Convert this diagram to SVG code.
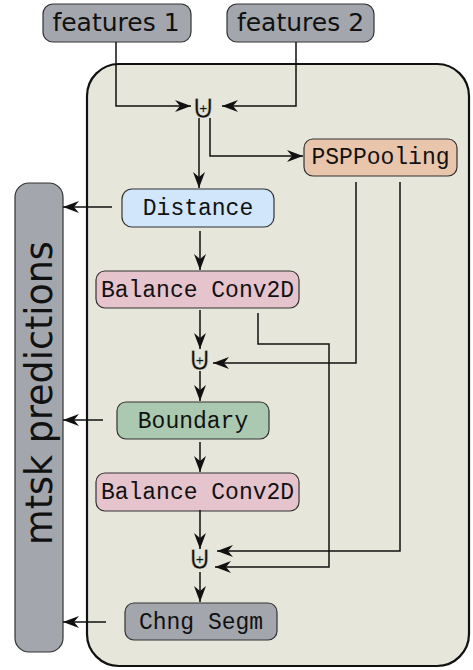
<svg xmlns="http://www.w3.org/2000/svg" width="473" height="670" viewBox="0 0 473 670">
<style>
.box{stroke:#333;stroke-width:1.2}
.sans{font-family:"DejaVu Sans",sans-serif;fill:#111}
.mono{font-family:"Liberation Mono","Courier New",monospace;font-size:23px;fill:#111;text-anchor:middle}
.op{font-family:"DejaVu Sans",sans-serif;font-size:34px;fill:#111;stroke:#e7e6da;stroke-width:0.5;text-anchor:middle}
.c{fill:none;stroke:#111;stroke-width:1.5}
</style>
<defs>
<marker id="ah" markerUnits="userSpaceOnUse" markerWidth="18" markerHeight="14" refX="16" refY="6.5" orient="auto">
<path d="M0,0.5 L16,6.5 L0,12.5 L5,6.5 z" fill="#111"/>
</marker>
</defs>
<rect id="container" x="87" y="64" width="382" height="602" rx="32" fill="#e7e6da" stroke="#111" stroke-width="2.2"/>
<g id="features1"><rect class="box" x="43" y="4" width="148" height="38" rx="10" fill="#a3a6ad"/><text class="sans" x="116" y="31" font-size="25" text-anchor="middle">features 1</text></g>
<g id="features2"><rect class="box" x="227" y="4" width="147" height="38" rx="10" fill="#a3a6ad"/><text class="sans" x="300.5" y="31" font-size="25" text-anchor="middle">features 2</text></g>
<g id="mtsk"><rect class="box" x="15" y="183" width="48" height="469" rx="14" fill="#a3a6ad"/><text class="sans" transform="translate(52,393) rotate(-90)" font-size="36.5" text-anchor="middle">mtsk predictions</text></g>
<g id="psppooling"><rect class="box" x="304" y="139" width="153" height="37" rx="9" fill="#e9c5ac"/><text class="mono" x="380.5" y="164">PSPPooling</text></g>
<g id="distance"><rect class="box" x="122" y="189" width="152" height="38" rx="10" fill="#d1e5fb"/><text class="mono" x="198" y="214.5">Distance</text></g>
<g id="balance1"><rect class="box" x="96" y="271" width="203" height="37" rx="9" fill="#e5c4cd"/><text class="mono" x="197.5" y="296.5">Balance Conv2D</text></g>
<g id="boundary"><rect class="box" x="117" y="402" width="152" height="37" rx="9" fill="#aac9b0"/><text class="mono" x="193" y="427.5">Boundary</text></g>
<g id="balance2"><rect class="box" x="96" y="473" width="203" height="38" rx="9" fill="#e5c4cd"/><text class="mono" x="197.5" y="498.5">Balance Conv2D</text></g>
<g id="chngsegm"><rect class="box" x="125" y="603" width="152" height="37" rx="9" fill="#a3a6ad"/><text class="mono" x="201" y="628.5">Chng Segm</text></g>
<g id="op1"><text class="op" x="203.5" y="118">⊎</text></g>
<g id="op2"><text class="op" x="200" y="370">⊎</text></g>
<g id="op3"><text class="op" x="200" y="569">⊎</text></g>
<g id="connectors">
<path class="c" marker-end="url(#ah)" d="M116,42 V106 H191"/>
<path class="c" marker-end="url(#ah)" d="M296,42 V106 H222"/>
<path class="c" marker-end="url(#ah)" d="M199,118 V188"/>
<path class="c" marker-end="url(#ah)" d="M210,118 V156 H303"/>
<path class="c" marker-end="url(#ah)" d="M112,207 H63"/>
<path class="c" marker-end="url(#ah)" d="M200,231 V270"/>
<path class="c" marker-end="url(#ah)" d="M200,310 V349"/>
<path class="c" marker-end="url(#ah)" d="M258,313 V344 H329 V567 H215"/>
<path class="c" marker-end="url(#ah)" d="M356,182 V363 H213"/>
<path class="c" marker-end="url(#ah)" d="M400,182 V551 H217"/>
<path class="c" marker-end="url(#ah)" d="M200,371 V401"/>
<path class="c" marker-end="url(#ah)" d="M103,420 H63"/>
<path class="c" marker-end="url(#ah)" d="M200,442 V472"/>
<path class="c" marker-end="url(#ah)" d="M200,510 V549"/>
<path class="c" marker-end="url(#ah)" d="M200,572 V602"/>
<path class="c" marker-end="url(#ah)" d="M106,622 H63"/>
</g>
</svg>
